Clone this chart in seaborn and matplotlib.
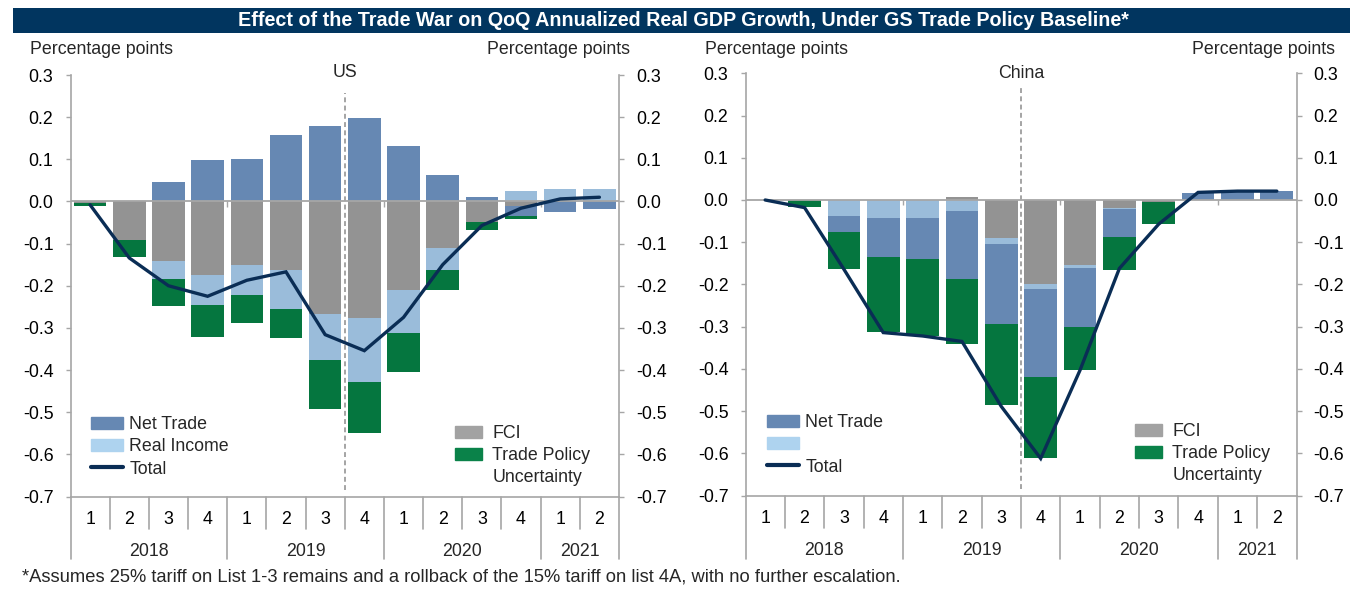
import numpy as np
import pandas as pd
import matplotlib
matplotlib.use("Agg")
import matplotlib.pyplot as plt
import seaborn as sns
from matplotlib import font_manager as fm
from matplotlib.patches import Patch, Rectangle
from matplotlib.lines import Line2D

# ---------------- data ----------------
quarters = ["1", "2", "3", "4", "1", "2", "3", "4", "1", "2", "3", "4", "1", "2"]
years = ["2018", "2019", "2020", "2021"]
year_spans = [(0, 3), (4, 7), (8, 11), (12, 13)]
ytick_values = [-0.7, -0.6, -0.5, -0.4, -0.3, -0.2, -0.1, 0.0, 0.1, 0.2, 0.3]
ytick_labels = ["-0.7", "-0.6", "-0.5", "-0.4", "-0.3", "-0.2", "-0.1", "0.0", "0.1", "0.2", "0.3"]

us_net_trade = [0.0, 0.0, 0.046, 0.098, 0.101, 0.157, 0.179, 0.197, 0.131, 0.062, 0.010, -0.024, -0.024, -0.018]
us_real_income = [0.0, 0.0, -0.043, -0.070, -0.072, -0.091, -0.111, -0.153, -0.104, -0.053, 0.0, 0.024, 0.029, 0.029]
us_fci = [-0.003, -0.092, -0.142, -0.175, -0.151, -0.163, -0.266, -0.276, -0.209, -0.110, -0.048, -0.010, 0.0, 0.0]
us_tpu = [-0.007, -0.040, -0.062, -0.076, -0.066, -0.071, -0.116, -0.120, -0.092, -0.048, -0.020, -0.008, 0.0, 0.0]
us_total = [-0.008, -0.134, -0.200, -0.225, -0.187, -0.167, -0.316, -0.354, -0.275, -0.150, -0.057, -0.016, 0.006, 0.010]

cn_net_trade = [0.0, 0.0, -0.039, -0.092, -0.096, -0.162, -0.189, -0.208, -0.140, -0.067, 0.0, 0.017, 0.019, 0.021]
cn_real_income = [0.0, 0.0, -0.037, -0.042, -0.043, -0.026, -0.013, -0.011, -0.005, -0.003, 0.0, 0.0, 0.0, 0.0]
cn_fci = [0.0, 0.0, 0.0, 0.0, 0.0, 0.006, -0.091, -0.200, -0.155, -0.018, -0.005, 0.0, 0.0, 0.0]
cn_tpu = [0.0, -0.017, -0.088, -0.179, -0.183, -0.153, -0.193, -0.193, -0.103, -0.077, -0.052, 0.0, 0.0, 0.0]
cn_total = [0.0, -0.018, -0.164, -0.314, -0.322, -0.335, -0.489, -0.612, -0.403, -0.162, -0.057, 0.018, 0.021, 0.021]

title = "Effect of the Trade War on QoQ Annualized Real GDP Growth, Under GS Trade Policy Baseline*"
footnote = "*Assumes 25% tariff on List 1-3 remains and a rollback of the 15% tariff on list 4A, with no further escalation."

# ---------------- style ----------------
C_NT = "#6688B3"
C_RI = "#9ABCDA"
C_FCI = "#939393"
C_TPU = "#05763F"
C_TOT = "#0A2D55"
C_AX = "#A6A6A6"
C_TITLE = "#01355F"
L_RI = "#AED3EF"
L_FCI = "#A2A2A2"
L_TPU = "#0A8249"

sns.set_theme(style="white")
plt.rcParams["font.family"] = ["Liberation Sans", "DejaVu Sans"]
FS = 12.8

W, H = 1356, 596
fig = plt.figure(figsize=(W / 100, H / 100), dpi=100)
fig.patch.set_facecolor("white")


def px_axes(l, t, r, b):
    return fig.add_axes([l / W, 1 - b / H, (r - l) / W, (b - t) / H])


def panel(ax, nt, ri, fci, tpu, total, name, vtop, name_y, legend_left, legend_right, ri_label):
    x = np.arange(len(quarters))
    comps = [(fci, C_FCI), (ri, C_RI), (nt, C_NT), (tpu, C_TPU)]
    pos = np.zeros(len(x))
    neg = np.zeros(len(x))
    for vals, col in comps:
        v = np.array(vals)
        b = np.where(v >= 0, pos, neg)
        ax.bar(x, v, bottom=b, width=0.83, color=col, linewidth=0, zorder=2)
        pos = pos + np.where(v > 0, v, 0)
        neg = neg + np.where(v < 0, v, 0)

    df = pd.DataFrame({"x": x, "total": total})
    sns.lineplot(data=df, x="x", y="total", ax=ax, color=C_TOT, lw=2.4, zorder=4,
                 legend=False, solid_joinstyle="miter")

    ax.axhline(0, color=C_AX, lw=1.3, zorder=3)
    for yb in [3.5, 7.5, 11.5]:
        ax.vlines(yb, -0.012, 0, color=C_AX, lw=1.0, zorder=3)

    ax.axvline(6.5, ymin=0.015, ymax=vtop, color="#8C8C8C", ls=(0, (3.2, 2.2)), lw=1.1, zorder=1)

    ax.set_xlim(-0.5, 13.5)
    ax.set_ylim(-0.7, 0.3)
    ax.set_yticks(ytick_values)
    ax.set_yticklabels(ytick_labels)
    ax.tick_params(axis="y", which="both", left=True, right=True, labelleft=True, labelright=True,
                   length=3.8, width=1.0, color=C_AX, pad=8.5, labelsize=FS, labelcolor="black",
                   direction="out")
    ax.set_xticks(x)
    ax.set_xticklabels(quarters)
    ax.tick_params(axis="x", length=0, pad=10.5, labelsize=FS, labelcolor="black")
    ax.set_xlabel("")
    ax.set_ylabel("")
    ax.grid(False)
    for s in ["left", "right", "bottom"]:
        ax.spines[s].set_color(C_AX)
        ax.spines[s].set_linewidth(1.2)
    ax.spines["top"].set_visible(False)

    tr = ax.get_xaxis_transform()
    for i in range(1, 14):
        if i in (4, 8, 12):
            continue
        ax.plot([i - 0.5, i - 0.5], [0, -0.076], transform=tr, clip_on=False, color=C_AX, lw=1.2)
    for xb in [-0.5, 3.5, 7.5, 11.5, 13.5]:
        ax.plot([xb, xb], [0, -0.149], transform=tr, clip_on=False, color=C_AX, lw=1.2)
    for yr, (a, b) in zip(years, year_spans):
        ax.text((a + b) / 2, -0.13, yr, transform=tr, ha="center", va="center", fontsize=FS)

    ax.text(6.5, name_y, name, transform=tr, ha="center", va="center", fontsize=FS)

    h1 = [Patch(color=C_NT), Patch(color=L_RI), Line2D([], [], color=C_TOT, lw=3.0)]
    leg1 = ax.legend(h1, ["Net Trade", ri_label, "Total"], loc="upper left",
                     bbox_to_anchor=legend_left, bbox_transform=fig.transFigure,
                     frameon=False, fontsize=FS, borderpad=0, borderaxespad=0,
                     handlelength=1.8, handleheight=0.7, handletextpad=0.35, labelspacing=0.3)
    ax.add_artist(leg1)
    h2 = [Patch(color=L_FCI), Patch(color=L_TPU), Patch(color="none")]
    ax.legend(h2, ["FCI", "Trade Policy", "Uncertainty"], loc="upper left",
              bbox_to_anchor=legend_right, bbox_transform=fig.transFigure,
              frameon=False, fontsize=FS, borderpad=0, borderaxespad=0,
              handlelength=1.5, handleheight=0.7, handletextpad=0.6, labelspacing=0.28)


ax_us = px_axes(70.5, 75.0, 619.0, 496.5)
panel(ax_us, us_net_trade, us_real_income, us_fci, us_tpu, us_total, "US", 0.957, 1.005,
      (91 / W, 1 - 416 / H), (455 / W, 1 - 425 / H), "Real Income")

ax_cn = px_axes(745.5, 73.3, 1296.5, 495.6)
panel(ax_cn, cn_net_trade, cn_real_income, cn_fci, cn_tpu, cn_total, "China", 0.965, 1.0,
      (767 / W, 1 - 414 / H), (1135 / W, 1 - 423 / H), "")

# axis unit labels
for xp, ha in [(30, "left"), (630, "right"), (705, "left"), (1335, "right")]:
    fig.text(xp / W, 1 - 50 / H, "Percentage points", ha=ha, va="center", fontsize=FS)

# title bar
fig.patches.append(Rectangle((13 / W, 1 - 33 / H), (1350 - 13) / W, 25 / H,
                             transform=fig.transFigure, facecolor=C_TITLE, edgecolor="none", zorder=0))
names = {f.name for f in fm.fontManager.ttflist}
if "Liberation Sans Narrow" in names:
    fig.text(683 / W, 1 - 20.5 / H, title, ha="center", va="center", color="white",
             fontsize=13.2, fontweight="bold", family=["Liberation Sans Narrow", "DejaVu Sans"])
else:
    fig.text(683 / W, 1 - 20.5 / H, title, ha="center", va="center", color="white",
             fontsize=14.2, fontweight="bold")

fig.text(22 / W, 1 - 577 / H, footnote, ha="left", va="center", fontsize=13.2)

fig.savefig("out.png", dpi=100, facecolor="white")
